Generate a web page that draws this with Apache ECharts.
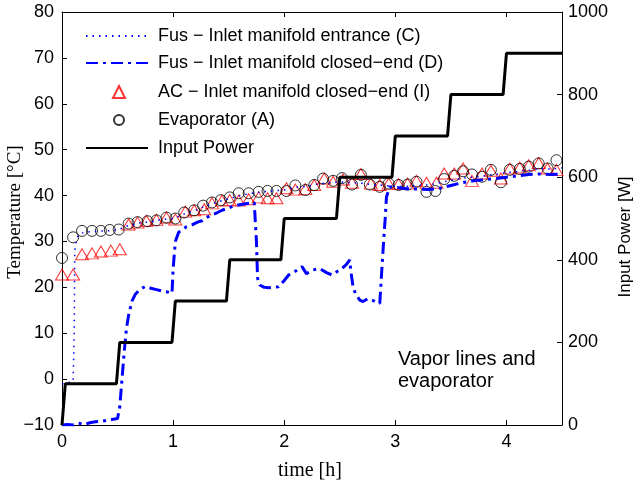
<!DOCTYPE html>
<html>
<head>
<meta charset="utf-8">
<script src="https://cdn.jsdelivr.net/npm/echarts@6/dist/echarts.min.js"></script>
<style>html,body{margin:0;padding:0;background:#fff}#c{width:638px;height:482px}</style>
</head>
<body>
<div id="c"></div>
<script>
// ---- data (time [h], value) ----
var inletEntranceC = [[0,-1],[0.05,-0.8],[0.1,-0.5],[0.11,10],[0.115,28],[0.13,30.5],[0.15,31.5],[0.2,32],[0.3,32.2],[0.4,32.3],[0.5,32.5],[0.6,33.5],[0.7,34],[0.8,34.3],[0.9,34.8],[1.0,35],[1.1,36],[1.2,36.8],[1.3,37.8],[1.4,38.6],[1.5,39.3],[1.6,40],[1.7,40.5],[1.8,40.8],[1.9,41],[2.0,41.2],[2.1,41.8],[2.2,42],[2.3,42.5],[2.4,42.8],[2.5,43],[2.6,42.8],[2.7,42.7],[2.8,42.3],[2.9,42.2],[3.0,42],[3.1,42],[3.2,42.2],[3.3,42.3],[3.4,42.8],[3.5,43.3],[3.6,43.8],[3.7,44],[3.8,44.3],[3.9,44.6],[4.0,45],[4.1,45.2],[4.2,45.5],[4.3,45.8],[4.4,45.8],[4.5,46]];
var inletClosedD = [[0,-10],[0.05,-9.9],[0.1,-10],[0.15,-9.6],[0.2,-9.9],[0.25,-9.5],[0.3,-9.3],[0.35,-9.2],[0.4,-9.0],[0.45,-8.8],[0.5,-8.6],[0.52,-6],[0.54,0],[0.56,6],[0.58,11],[0.6,14],[0.63,17],[0.66,18.5],[0.7,19.5],[0.75,20.2],[0.8,19.8],[0.85,19.5],[0.9,19.2],[0.95,19.0],[0.99,18.7],[1.0,24],[1.02,30],[1.05,32],[1.08,32.5],[1.12,33.2],[1.17,33.6],[1.22,34.2],[1.26,34.5],[1.3,35.2],[1.35,35.8],[1.4,36.3],[1.44,36.8],[1.5,37.3],[1.55,37.8],[1.6,38.0],[1.65,38.2],[1.7,38.4],[1.73,38.5],[1.75,30],[1.76,22],[1.78,20.5],[1.82,20],[1.86,19.9],[1.9,20],[1.95,20.1],[2.0,21.5],[2.04,22.7],[2.1,23.5],[2.16,24.5],[2.2,23.0],[2.26,23.8],[2.32,24.1],[2.38,23.2],[2.43,22.7],[2.48,23.5],[2.52,24.1],[2.56,25],[2.59,26],[2.6,23.5],[2.62,20],[2.64,18.7],[2.68,17.2],[2.71,16.9],[2.75,17.5],[2.79,17.2],[2.83,16.8],[2.86,16.5],[2.88,24.5],[2.9,32],[2.91,35.4],[2.92,39.7],[2.95,41.9],[3.0,41.8],[3.1,41.5],[3.2,41.4],[3.3,41.3],[3.4,41.6],[3.5,42.2],[3.6,42.8],[3.7,43.2],[3.8,43.5],[3.9,43.7],[4.0,44.0],[4.1,44.3],[4.2,44.6],[4.3,44.7],[4.4,44.6],[4.5,44.7]];
var acClosedI = [[0,22.8],[0.1,22.8],[0.18,27.2],[0.27,27.4],[0.35,27.8],[0.44,28.0],[0.52,28.3],[0.6,33.7],[0.68,34.1],[0.76,34.5],[0.85,34.7],[0.94,35.2],[1.02,34.8],[1.11,36.5],[1.19,36.8],[1.28,37.0],[1.35,38.3],[1.44,38.9],[1.51,39.0],[1.59,38.9],[1.68,39.2],[1.77,39.6],[1.85,39.4],[1.93,39.4],[2.02,41.6],[2.10,41.3],[2.19,41.4],[2.27,42.3],[2.36,43.7],[2.44,43.0],[2.53,43.5],[2.61,42.8],[2.69,44.7],[2.78,42.6],[2.86,42.3],[2.94,42.6],[3.03,42.5],[3.11,42.6],[3.19,43.2],[3.28,42.8],[3.37,42.8],[3.44,44.8],[3.53,44.8],[3.61,45.9],[3.69,43.2],[3.78,44.8],[3.86,45.4],[3.95,43.7],[4.03,45.9],[4.12,46.1],[4.20,46.6],[4.29,47.1],[4.37,45.9],[4.45,45.6]];
var evaporatorA = [[0,26.4],[0.10,30.9],[0.18,32.3],[0.27,32.3],[0.35,32.3],[0.43,32.5],[0.51,32.6],[0.60,33.9],[0.68,34.2],[0.77,34.4],[0.85,34.6],[0.94,35.2],[1.02,35.0],[1.10,36.3],[1.19,36.8],[1.27,37.8],[1.35,38.5],[1.43,39.0],[1.51,39.6],[1.59,40.5],[1.68,40.5],[1.77,40.8],[1.85,41.0],[1.93,41.0],[2.02,41.0],[2.10,42.2],[2.19,41.2],[2.27,42.3],[2.35,43.7],[2.44,43.2],[2.52,43.8],[2.61,42.4],[2.69,44.5],[2.77,42.4],[2.86,41.9],[2.94,42.6],[3.03,42.3],[3.11,42.4],[3.19,43.0],[3.28,40.8],[3.36,41.0],[3.44,43.6],[3.53,44.3],[3.61,45.3],[3.69,44.6],[3.78,44.1],[3.86,45.6],[3.95,42.9],[4.03,45.6],[4.12,45.8],[4.20,46.3],[4.29,47.0],[4.37,45.9],[4.45,47.7]];
var inputPower = [[0,0],[0.03,100],[0.49,100],[0.52,200],[0.99,200],[1.02,300],[1.48,300],[1.51,400],[1.97,400],[2.0,500],[2.47,500],[2.5,600],[2.97,600],[3.0,700],[3.47,700],[3.5,800],[3.97,800],[4.0,900],[4.5,900]];
var seriesNames = ['Fus \u2212 Inlet manifold entrance (C)','Fus \u2212 Inlet manifold closed\u2212end (D)','AC \u2212 Inlet manifold closed\u2212end (I)','Evaporator (A)','Input Power'];
var annotationLines = ['Vapor lines and','evaporator'];

var chart = echarts.init(document.getElementById('c'), null, {renderer:'canvas'});
var SANS = '"Liberation Sans", Arial, Helvetica, sans-serif';
var SERIF = '"Liberation Serif", "Times New Roman", serif';
var minusFmt = function(v){ return String(v).replace('-', '\u2212'); };
var plainFmt = function(v){ return String(v); };
var axisCommon = {
  axisLine:{show:true, onZero:false, lineStyle:{color:'#000', width:1}},
  axisTick:{show:true, inside:true, length:5, lineStyle:{color:'#000'}},
  splitLine:{show:false}
};
var legendText = {fontFamily:SANS, fontSize:18, color:'#000', lineHeight:20};
var hiddenSym = {color:'rgba(0,0,0,0)', borderWidth:0, borderColor:'rgba(0,0,0,0)'};
var rowY = [31, 58, 87, 115, 143];
function lineLegend(i){
  return {orient:'vertical', left:80, top:rowY[i]-10, itemWidth:62, itemHeight:14,
    textStyle:Object.assign({padding:[0,0,0,5]}, legendText),
    data:[{name:seriesNames[i], itemStyle:hiddenSym}]};
}
function symLegend(i, w){
  return {orient:'vertical', left:113 - w/2, top:rowY[i]-10, itemWidth:w, itemHeight:w,
    textStyle:Object.assign({padding:[0,0,0,152-(113+w/2)-5]}, legendText),
    data:[seriesNames[i]]};
}
chart.setOption({
  animation:false,
  backgroundColor:'#fff',
  grid:{left:62, right:76, top:12, bottom:57, containLabel:false},
  xAxis:[
    Object.assign({type:'value', position:'bottom', min:0, max:4.5, interval:1,
      axisLabel:{color:'#000', fontFamily:SANS, fontSize:18, margin:8, showMaxLabel:false}}, axisCommon),
    Object.assign({type:'value', position:'top', min:0, max:4.5, interval:1,
      axisLabel:{show:false}}, axisCommon)
  ],
  yAxis:[
    Object.assign({type:'value', position:'left', min:-10, max:80, interval:10,
      axisLabel:{color:'#000', fontFamily:SANS, fontSize:18, margin:8, formatter:minusFmt}}, axisCommon),
    Object.assign({type:'value', position:'right', min:0, max:1000, interval:200,
      axisLabel:{color:'#000', fontFamily:SANS, fontSize:18, margin:6, formatter:plainFmt}}, axisCommon)
  ],
  legend:[lineLegend(0), lineLegend(1), symLegend(2, 12), symLegend(3, 10), lineLegend(4)],
  series:[
    {name:seriesNames[0], type:'line', xAxisIndex:0, yAxisIndex:0, data:inletEntranceC, symbol:'none',
      lineStyle:{color:'#0000ff', width:1.5, type:[1.5,5]}, itemStyle:{color:'#0000ff'}},
    {name:seriesNames[1], type:'line', xAxisIndex:0, yAxisIndex:0, data:inletClosedD, symbol:'none',
      lineStyle:{color:'#0000ff', width:3, type:[12,5,3,5]}, itemStyle:{color:'#0000ff'}},
    {name:seriesNames[2], type:'scatter', xAxisIndex:0, yAxisIndex:0, data:acClosedI, symbol:'triangle', symbolSize:[13,11],
      itemStyle:{color:'rgba(0,0,0,0)', borderColor:'#ff0000', borderWidth:1}},
    {name:seriesNames[3], type:'scatter', xAxisIndex:0, yAxisIndex:0, data:evaporatorA, symbol:'circle', symbolSize:11,
      itemStyle:{color:'rgba(0,0,0,0)', borderColor:'#000', borderWidth:1}},
    {name:seriesNames[4], type:'line', xAxisIndex:0, yAxisIndex:1, data:inputPower, symbol:'none',
      lineStyle:{color:'#000', width:3}, itemStyle:{color:'#000'}}
  ],
  graphic:[
    {type:'text', x:15, y:212, rotation:Math.PI/2, style:{text:'Temperature [\u00b0C]', font:'19px '+SERIF, fill:'#000', textAlign:'center', textVerticalAlign:'middle'}},
    {type:'text', x:625, y:237, rotation:Math.PI/2, style:{text:'Input Power [W]', font:'17px '+SANS, fill:'#000', textAlign:'center', textVerticalAlign:'middle'}},
    {type:'text', x:310, y:471, style:{text:'time [h]', font:'20px '+SERIF, fill:'#000', textAlign:'center', textVerticalAlign:'middle'}},
    {type:'text', x:398, y:370, style:{text:annotationLines.join('\n'), font:'20px '+SANS, fill:'#000', lineHeight:22, textAlign:'left', textVerticalAlign:'middle'}}
  ]
});
</script>
</body>
</html>
